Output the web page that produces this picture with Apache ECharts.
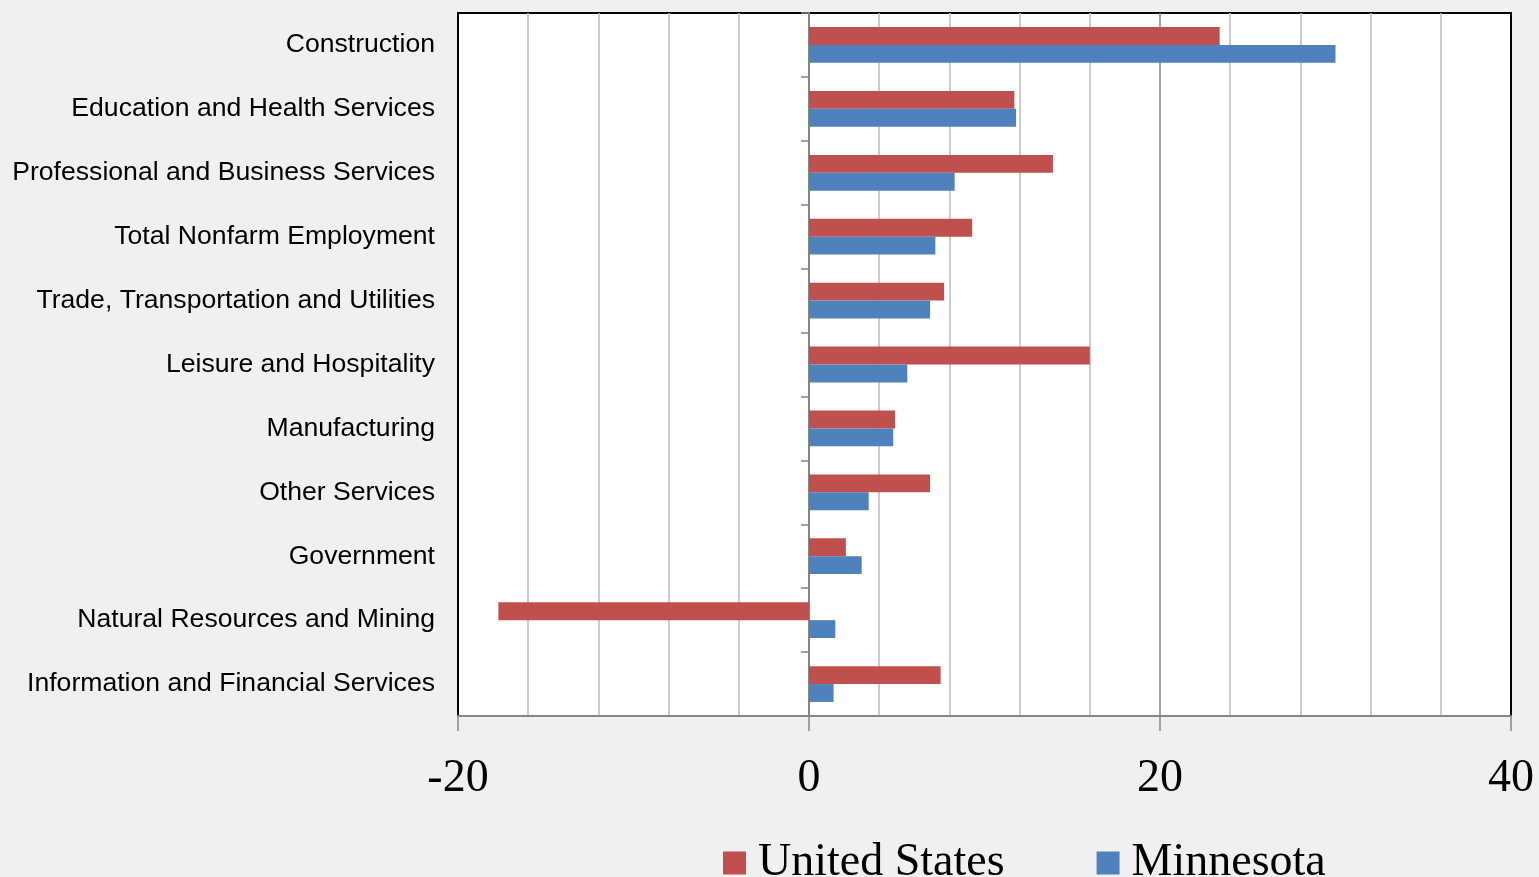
<!DOCTYPE html>
<html>
<head>
<meta charset="utf-8">
<script src="https://cdn.jsdelivr.net/npm/echarts@6/dist/echarts.min.js"></script>
<style>
  html, body { margin: 0; padding: 0; background: #f0f0f0; }
  #chart { width: 1539px; height: 877px; }
</style>
</head>
<body>
<div id="chart"></div>
<script>
// Industries, listed top to bottom
const categories = [
  'Construction',
  'Education and Health Services',
  'Professional and Business Services',
  'Total Nonfarm Employment',
  'Trade, Transportation and Utilities',
  'Leisure and Hospitality',
  'Manufacturing',
  'Other Services',
  'Government',
  'Natural Resources and Mining',
  'Information and Financial Services'
];
// Employment change (%)
const unitedStates = [23.4, 11.7, 13.9, 9.3, 7.7, 16.0, 4.9, 6.9, 2.1, -17.7, 7.5];
const minnesota    = [30.0, 11.8, 8.3, 7.2, 6.9, 5.6, 4.8, 3.4, 3.0, 1.5, 1.4];
const seriesNames = ['United States', 'Minnesota'];
const xTicks = [-20, 0, 20, 40];

const chart = echarts.init(document.getElementById('chart'), null, { renderer: 'canvas' });

const gray = '#868686';

chart.setOption({
  backgroundColor: '#f0f0f0',
  animation: false,
  grid: {
    left: 458, right: 28, top: 13, bottom: 161,
    show: true,
    backgroundColor: '#ffffff',
    borderColor: '#000000',
    borderWidth: 2
  },
  legend: {
    data: seriesNames,
    left: 718,
    top: 835,
    icon: 'rect',
    itemWidth: 23,
    itemHeight: 23,
    itemGap: 92,
    textStyle: {
      fontFamily: '"Liberation Serif", "DejaVu Serif", serif',
      fontSize: 46,
      color: '#000000',
      padding: [0, 0, 0, 7]
    }
  },
  xAxis: {
    type: 'value',
    min: xTicks[0],
    max: xTicks[xTicks.length - 1],
    interval: 20,
    axisLine: { show: true, onZero: false, lineStyle: { color: gray, width: 2 } },
    axisTick: { show: true, length: 15, lineStyle: { color: gray, width: 1.5 } },
    axisLabel: {
      margin: 40,
      fontFamily: '"Liberation Serif", "DejaVu Serif", serif',
      fontSize: 46,
      color: '#000000',
      showMinLabel: true,
      showMaxLabel: true
    },
    splitLine: {
      show: true,
      showMinLine: false,
      showMaxLine: false,
      lineStyle: { color: gray, width: 1.5 }
    },
    minorTick: { show: false, splitNumber: 5 },
    minorSplitLine: { show: true, lineStyle: { color: '#bcbcbc', width: 1.5 } }
  },
  yAxis: [
    {
      // labels at the left edge of the plot
      type: 'category',
      data: categories,
      inverse: true,
      position: 'left',
      axisLine: { show: false, onZero: false },
      axisTick: { show: false },
      splitLine: { show: false },
      axisLabel: {
        margin: 23,
        fontFamily: '"Liberation Sans", Arial, sans-serif',
        fontSize: 26.6,
        color: '#000000'
      }
    },
    {
      // the zero line with its category ticks
      type: 'category',
      data: categories,
      inverse: true,
      position: 'left',
      axisLine: { show: true, onZero: true, lineStyle: { color: gray, width: 2 } },
      axisTick: { show: true, length: 8, lineStyle: { color: gray, width: 1.5 } },
      axisLabel: { show: false },
      splitLine: { show: false }
    }
  ],
  series: [
    {
      name: seriesNames[0],
      type: 'bar',
      yAxisIndex: 0,
      data: unitedStates,
      itemStyle: { color: '#c0504d' },
      barGap: '0%',
      barCategoryGap: '44%'
    },
    {
      name: seriesNames[1],
      type: 'bar',
      yAxisIndex: 0,
      data: minnesota,
      itemStyle: { color: '#4f81bd' },
      barGap: '0%',
      barCategoryGap: '44%'
    }
  ]
});
</script>
</body>
</html>
